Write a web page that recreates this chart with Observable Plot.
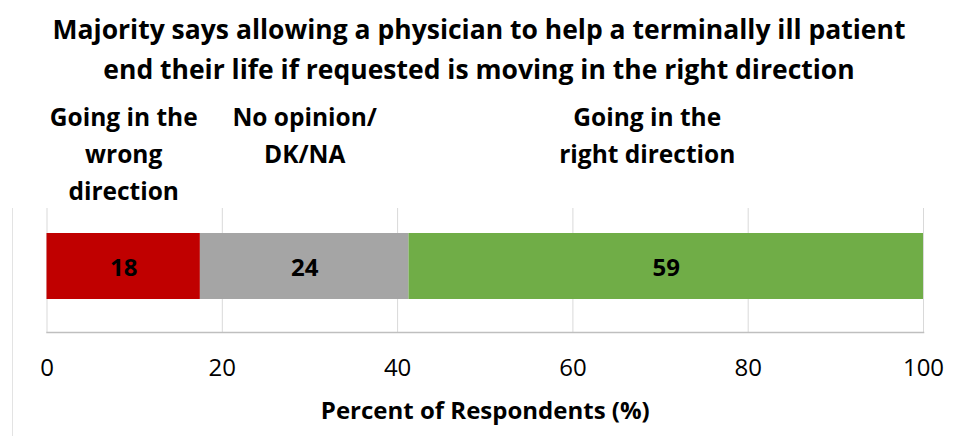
<!DOCTYPE html>
<html>
<head>
<meta charset="utf-8">
<script src="https://cdn.jsdelivr.net/npm/d3@7"></script>
<script src="https://cdn.jsdelivr.net/npm/@observablehq/plot@0.6"></script>
<style>
  html, body { margin: 0; padding: 0; background: #fff; }
  body { width: 958px; height: 436px; overflow: hidden; position: relative; font-family: "Open Sans", sans-serif; }
  #title { box-sizing: border-box; height: 90px; padding-top: 9px; text-align: center; font-weight: 700; font-size: 26.5px; line-height: 40px; color: #000; white-space: nowrap; overflow: hidden; }
  #leftline { position: absolute; left: 12px; top: 208px; width: 1px; height: 228px; background: #e3e3e3; }
  #chart svg { display: block; }
</style>
</head>
<body>
<div id="title">Majority says allowing a physician to help a terminally ill patient<br>end their life if requested is moving in the right direction</div>
<div id="leftline"></div>
<div id="chart"></div>
<script>
const categories = ["Going in the wrong direction", "No opinion/DK/NA", "Going in the right direction"];
const categoryLines = ["Going in the\nwrong\ndirection", "No opinion/\nDK/NA", "Going in the\nright direction"];
const values = [17.5, 23.8, 58.7];
const valueLabels = ["18", "24", "59"];
const colors = ["#c00000", "#a5a5a5", "#70ad47"];
const xTicks = [0, 20, 40, 60, 80, 100];
const xLabel = "Percent of Respondents (%)";

const rows = categories.map((c, i) => ({
  cat: c, value: values[i], label: valueLabels[i], lines: categoryLines[i], group: "All"
}));
const lastCat = categories[categories.length - 1];

const plot = Plot.plot({
  width: 958,
  height: 346,
  marginLeft: 46.5,
  marginRight: 35,
  marginTop: 118,
  marginBottom: 104,
  style: { fontFamily: "Open Sans, sans-serif", color: "#000", background: "#fff" },
  x: { domain: [0, 100], axis: null },
  y: { domain: ["All"], axis: null, padding: 0 },
  color: { domain: categories, range: colors },
  marks: [
    Plot.ruleX(xTicks, { x: d => d, stroke: "#d9d9d9", strokeWidth: 1 }),
    Plot.barX(rows, Plot.stackX({ x: "value", y: "group", fill: "cat", insetTop: 25, insetBottom: 33 })),
    Plot.frame({ anchor: "bottom", stroke: "#bfbfbf", strokeWidth: 1.5 }),
    Plot.text(rows, Plot.stackX({ x: "value", y: "group", text: "label", fontSize: 24, fontWeight: 700, fill: "#000", dy: -2 })),
    Plot.text(rows, Plot.stackX({ x: "value", text: d => d.cat === lastCat ? "" : d.lines, frameAnchor: "top", lineAnchor: "top", dy: -109, lineHeight: 1.51, fontSize: 24.5, fontWeight: 700, fill: "#000" })),
    Plot.text(rows, Plot.stackX({ x: "value", text: d => d.cat === lastCat ? d.lines : "", frameAnchor: "top", lineAnchor: "top", dy: -109, dx: -19, lineHeight: 1.51, fontSize: 24.5, fontWeight: 700, fill: "#000" })),
    Plot.axisX({ ticks: xTicks, tickSize: 0, tickPadding: 26, fontSize: 24, label: null, tickFormat: d => String(d), fill: "#000" }),
    Plot.text([xLabel], { text: d => d, frameAnchor: "bottom", lineAnchor: "middle", dy: 79, fontSize: 24, fontWeight: 700, fill: "#000" })
  ]
});
document.getElementById("chart").appendChild(plot);
</script>
</body>
</html>
